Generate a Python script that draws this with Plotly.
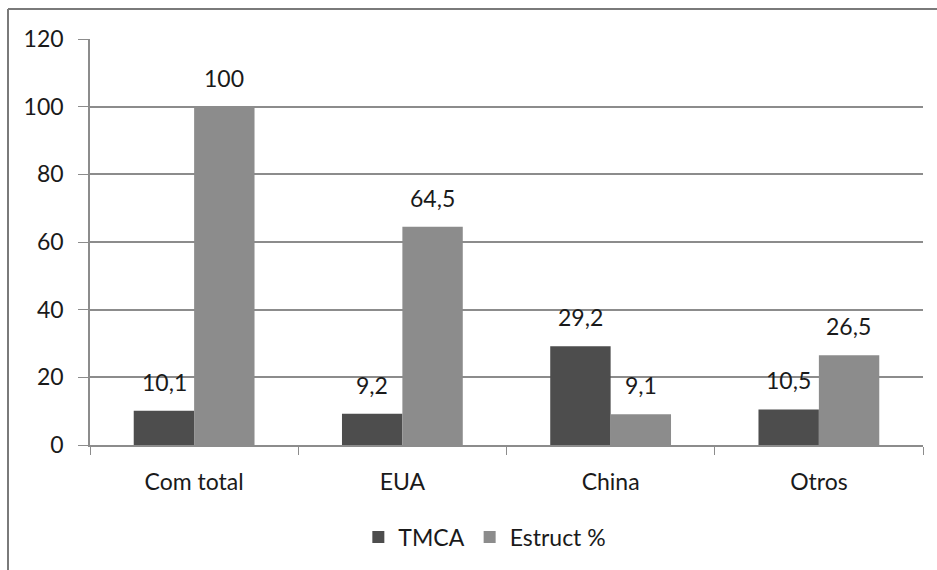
import plotly.graph_objects as go

categories = ["Com total", "EUA", "China", "Otros"]
tmca = [10.1, 9.2, 29.2, 10.5]
estruct = [100, 64.5, 9.1, 26.5]
y_ticks = [0, 20, 40, 60, 80, 100, 120]

def fmt(v):
    return (f"{v:g}").replace(".", ",")

FONT = "Lato, 'Open Sans', sans-serif"
FS = 23
TXT = "#1a1a1a"
DARK = "#4d4d4d"
LIGHT = "#8c8c8c"

fig = go.Figure()
fig.add_trace(go.Bar(name="TMCA", x=categories, y=tmca,
                     marker=dict(color=DARK, line=dict(width=0))))
fig.add_trace(go.Bar(name="Estruct %", x=categories, y=estruct,
                     marker=dict(color=LIGHT, line=dict(width=0))))

# data labels, placed over each bar of the group
for vals, shift in ((tmca, -30), (estruct, 30)):
    for c, v in zip(categories, vals):
        fig.add_annotation(x=c, y=v, xref="x", yref="y", text=fmt(v),
                           showarrow=False, xanchor="center", yanchor="bottom",
                           xshift=shift, yshift=13,
                           font=dict(size=FS, color=TXT, family=FONT))

fig.update_layout(
    width=937, height=570,
    margin=dict(l=90, r=14, t=39, b=124),
    paper_bgcolor="white", plot_bgcolor="white",
    barmode="group", bargap=0.42, bargroupgap=0,
    font=dict(family=FONT, size=FS, color=TXT),
    legend=dict(orientation="h", x=0.474, xanchor="center", y=-0.224, yanchor="middle",
                font=dict(size=FS), itemwidth=30, traceorder="normal"),
    showlegend=True,
)
fig.update_xaxes(showline=True, linecolor="#8c8c8c", linewidth=1.5,
                 ticks="outside", tickson="boundaries", ticklen=8, tickcolor="#8c8c8c",
                 ticklabelstandoff=16, tickfont=dict(size=FS), showgrid=False)
fig.update_yaxes(range=[0, 120], tickvals=y_ticks, showline=True, linecolor="#8c8c8c",
                 linewidth=1.5, ticks="outside", ticklen=10, tickcolor="#8c8c8c",
                 ticklabelstandoff=10,
                 showgrid=True, gridcolor="#8c8c8c", gridwidth=1.5, zeroline=False,
                 tickfont=dict(size=FS))

# outer chart frame (cropped: only top and left edges visible)
fig.add_shape(type="line", xref="paper", yref="paper",
              x0=(8 - 90) / 833, x1=(937 - 90) / 833 + 0.1,
              y0=(570 - 124 - 9) / 407, y1=(570 - 124 - 9) / 407,
              line=dict(color="#7a7a7a", width=2))
fig.add_shape(type="line", xref="paper", yref="paper",
              x0=(8 - 90) / 833, x1=(8 - 90) / 833,
              y0=(570 - 124 - 9) / 407, y1=-124 / 407 - 0.05,
              line=dict(color="#7a7a7a", width=2))

fig.write_html("out.html")
